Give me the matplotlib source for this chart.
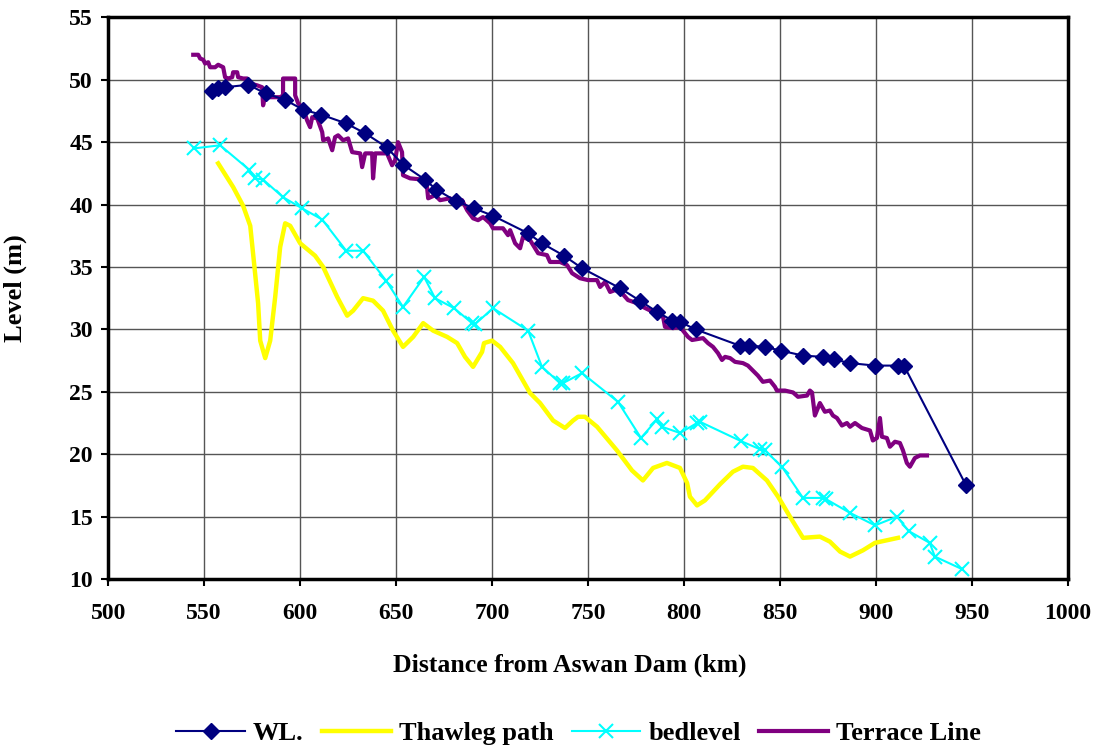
import matplotlib.pyplot as plt

plt.rcParams['font.family'] = ['Liberation Serif', 'DejaVu Serif']
plt.rcParams['font.weight'] = 'bold'

# water level
wl_km = [554.2, 557.0, 561.0, 573.0, 582.0, 592.0, 601.6, 611.0, 624.0, 634.0,
         645.0, 653.6, 665.0, 671.0, 681.0, 690.6, 700.5, 718.8, 726.0, 737.5,
         746.9, 766.7, 777.0, 786.0, 794.0, 798.0, 806.0, 829.0, 834.0, 842.0,
         850.5, 862.0, 872.4, 878.0, 886.5, 899.5, 911.5, 914.6, 947.0]
wl_lev = [49.1, 49.3, 49.4, 49.6, 48.9, 48.4, 47.6, 47.2, 46.5, 45.7,
          44.6, 43.2, 42.0, 41.2, 40.3, 39.7, 39.1, 37.7, 36.9, 35.9,
          34.9, 33.3, 32.3, 31.4, 30.7, 30.6, 30.0, 28.7, 28.7, 28.6,
          28.3, 27.9, 27.8, 27.6, 27.3, 27.1, 27.1, 27.1, 17.5]

# thalweg
th_km = [557.3, 565.1, 570.3, 574.0, 576.0, 578.1, 579.2, 581.8, 584.4, 587.0,
         589.6, 592.2, 594.8, 600.0, 607.8, 612.0, 619.3, 624.5, 627.6, 632.8,
         638.0, 643.2, 648.4, 653.6, 658.9, 664.1, 669.3, 676.6, 681.8, 685.9,
         690.1, 694.8, 695.8, 700.0, 704.2, 710.9, 719.8, 725.0, 731.8, 738.0,
         742.2, 744.8, 748.4, 754.7, 765.1, 772.9, 778.6, 783.9, 791.1, 797.9,
         801.6, 803.1, 806.8, 810.9, 818.8, 825.5, 830.7, 835.9, 843.2, 849.0,
         855.2, 862.0, 870.8, 876.0, 881.3, 886.5, 893.2, 899.5, 911.5]
th_lev = [43.3, 41.4, 39.9, 38.3, 35.3, 32.1, 29.1, 27.7, 29.1, 32.6,
          36.6, 38.5, 38.3, 36.9, 35.9, 35.0, 32.6, 31.1, 31.5, 32.5,
          32.3, 31.5, 29.9, 28.6, 29.4, 30.5, 29.9, 29.4, 28.9, 27.8,
          27.0, 28.2, 28.9, 29.1, 28.6, 27.3, 24.9, 24.1, 22.7, 22.1,
          22.7, 23.0, 23.0, 22.2, 20.3, 18.7, 17.9, 18.9, 19.3, 18.9,
          17.7, 16.6, 15.9, 16.3, 17.6, 18.6, 19.0, 18.9, 17.9, 16.6,
          15.0, 13.3, 13.4, 13.0, 12.2, 11.8, 12.3, 12.9, 13.3]

# bed level
bed_km = [544.8, 558.3, 573.4, 576.6, 580.7, 591.0, 601.0, 611.5, 624.0, 632.8,
          644.8, 653.6, 664.6, 670.3, 680.2, 689.6, 691.0, 700.5, 718.8, 726.0,
          735.4, 737.0, 746.9, 765.6, 777.6, 786.0, 788.5, 797.9, 806.8, 808.3,
          829.7, 839.6, 842.2, 851.0, 862.0, 872.4, 874.0, 886.5, 899.5, 911.0,
          917.0, 928.0, 930.7, 944.8]
bed_lev = [44.5, 44.75, 42.8, 42.1, 42.0, 40.6, 39.7, 38.8, 36.3, 36.3,
           33.9, 31.8, 34.2, 32.5, 31.7, 30.5, 30.4, 31.7, 29.9, 27.0,
           25.7, 25.7, 26.5, 24.2, 21.3, 22.8, 22.2, 21.7, 22.5, 22.6,
           21.05, 20.4, 20.3, 19.0, 16.5, 16.5, 16.4, 15.3, 14.3, 15.0,
           13.85, 12.9, 11.8, 10.8]

# terrace line
tr_km = [544.3, 546.9, 547.9, 549.5, 550.5, 552.1, 553.1, 555.7, 557.3, 559.9,
         560.9, 562.5, 564.6, 565.1, 567.2, 567.7, 570.3, 572.4, 574.0, 577.6,
         580.2, 580.7, 581.8, 583.3, 589.6, 591.1, 591.1, 597.4, 597.4, 599.0,
         601.6, 603.6, 605.2, 606.3, 608.9, 611.5, 612.0, 614.6, 616.7, 618.2,
         619.8, 622.4, 625.0, 627.1, 631.3, 632.3, 633.9, 637.5, 638.0, 639.1,
         645.3, 647.9, 649.5, 651.0, 653.1, 653.6, 657.3, 664.1, 666.1, 666.7,
         670.3, 672.9, 678.1, 681.8, 684.4, 687.0, 690.1, 692.7, 695.3, 699.0,
         700.5, 705.7, 708.3, 709.4, 712.0, 714.6, 716.1, 719.8, 721.4, 724.0,
         728.6, 730.2, 735.4, 739.1, 741.7, 745.8, 750.0, 754.7, 756.3, 758.9,
         761.5, 764.1, 767.7, 770.8, 775.5, 778.6, 783.9, 789.1, 790.1, 794.3,
         797.9, 802.1, 804.2, 809.9, 812.5, 815.1, 817.7, 819.8, 821.4, 824.0,
         826.6, 830.7, 833.3, 835.9, 838.5, 841.1, 844.8, 847.4, 848.4, 852.6,
         856.8, 859.4, 864.1, 865.6, 866.7, 868.2, 870.8, 873.4, 876.0, 877.6,
         879.7, 882.3, 884.9, 886.5, 889.1, 892.7, 896.9, 898.4, 900.5, 902.1,
         903.1, 905.7, 907.3, 909.9, 912.5, 914.1, 916.1, 917.7, 920.3, 922.9,
         926.6]
tr_lev = [52.0, 52.0, 51.7, 51.6, 51.3, 51.4, 51.0, 51.0, 51.2, 51.0,
          50.2, 50.1, 50.2, 50.6, 50.6, 50.2, 50.1, 50.1, 49.7, 49.55,
          49.4, 47.95, 48.75, 48.6, 48.6, 48.75, 50.1, 50.1, 48.75, 48.1,
          47.7, 46.75, 46.2, 47.0, 46.9, 45.8, 45.15, 45.3, 44.35, 45.4,
          45.55, 45.15, 45.3, 44.2, 44.1, 43.0, 44.1, 44.1, 42.1, 44.1,
          44.1, 43.15, 43.55, 45.0, 44.2, 42.35, 42.1, 42.0, 41.4, 40.5,
          40.75, 40.35, 40.5, 40.1, 40.35, 39.55, 38.9, 38.75, 39.0, 38.5,
          38.1, 38.1, 37.55, 37.95, 36.9, 36.5, 37.4, 37.15, 36.75, 36.1,
          35.95, 35.4, 35.4, 35.15, 34.5, 34.1, 33.95, 33.95, 33.4, 33.8,
          33.0, 33.15, 32.9, 32.35, 32.1, 31.8, 31.4, 31.0, 30.2, 30.1,
          30.2, 29.4, 29.15, 29.3, 28.9, 28.6, 28.1, 27.55, 27.8, 27.7,
          27.4, 27.3, 27.1, 26.7, 26.3, 25.8, 25.9, 25.4, 25.1, 25.1,
          24.95, 24.6, 24.7, 25.1, 24.95, 23.1, 24.1, 23.4, 23.5, 23.1,
          22.9, 22.3, 22.5, 22.2, 22.5, 22.1, 21.9, 21.1, 21.3, 22.9,
          21.4, 21.3, 20.6, 21.0, 20.9, 20.3, 19.3, 19.0, 19.7, 19.9,
          19.9]

fig = plt.figure(figsize=(10.93, 7.53), dpi=100)
ax = fig.add_axes([0.099, 0.231, 0.878, 0.746])

ax.plot(wl_km, wl_lev, color='#000080', lw=1.5, marker='D', ms=8,
        label='WL.', zorder=5)
ax.plot(th_km, th_lev, color='#FFFF00', lw=3.2, label='Thawleg path', zorder=3)
ax.plot(bed_km, bed_lev, color='#00FFFF', lw=1.5, marker='x', ms=10, mew=1.5,
        label='bedlevel', zorder=4)
ax.plot(tr_km, tr_lev, color='#800080', lw=3, label='Terrace Line', zorder=4)

ax.set_xlim(500, 1000)
ax.set_ylim(10, 55)
ax.set_xticks(range(500, 1001, 50))
ax.set_yticks(range(10, 56, 5))
ax.grid(True, color='#555555', lw=1)
ax.set_axisbelow(True)
for s in ax.spines.values():
    s.set_linewidth(2.5)
ax.tick_params(axis='both', direction='out', length=5, width=1.5, labelsize=17)
ax.tick_params(axis='x', pad=12)
ax.tick_params(axis='y', pad=6)

ax.set_xlabel('Distance from Aswan Dam (km)', fontsize=18.5, fontweight='bold')
ax.xaxis.set_label_coords(0.481, -0.133)
ax.set_ylabel('Level (m)', fontsize=19, fontweight='bold')
ax.yaxis.set_label_coords(-0.085, 0.518)

ax.legend(loc='center', bbox_to_anchor=(0.49, -0.275), ncol=4, frameon=False,
          handlelength=2.6, handletextpad=0.3, columnspacing=0.7,
          prop={'weight': 'bold', 'size': 19})

fig.savefig('out.png', dpi=100)
